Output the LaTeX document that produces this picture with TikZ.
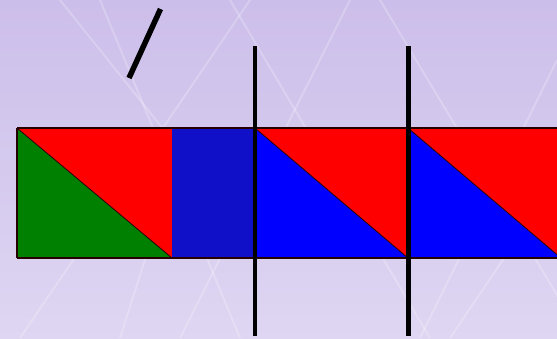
\documentclass[tikz,border=0pt]{standalone}
\begin{document}
\begin{tikzpicture}[x=1pt,y=-1pt,
  edge/.style={draw=black!85!red, line width=1.2pt},
  bar/.style={draw=black, line width=4.5pt},
  glow/.style={draw=white, opacity=0.22, line width=2pt}]
\definecolor{lavtop}{RGB}{204,190,234}
\definecolor{lavbot}{RGB}{222,214,242}
\definecolor{sqgreen}{RGB}{0,128,0}
\definecolor{sqred}{RGB}{255,0,0}
\definecolor{sqdblue}{RGB}{16,16,200}
\definecolor{sqblue}{RGB}{0,0,255}
\useasboundingbox (0,0) rectangle (557,338);
\shade[top color=lavtop, bottom color=lavbot] (0,0) rectangle (557,338);
% faint sparkle lines
\draw[glow] (60,0) -- (180,150) -- (120,338);
\draw[glow] (20,338) -- (250,0);
\draw[glow] (100,0) -- (240,338);
\draw[glow] (230,0) -- (430,338);
\draw[glow] (350,0) -- (180,338);
\draw[glow] (380,0) -- (560,300);
\draw[glow] (557,60) -- (420,338);
\draw[glow] (450,338) -- (557,180);
% first square
\coordinate (a1) at (17,128);
\coordinate (a2) at (172,128);
\coordinate (a3) at (172,258);
\coordinate (a4) at (17,258);
\fill[sqgreen] (a1) -- (a3) -- (a4) -- cycle;
\fill[sqred] (a1) -- (a2) -- (a3) -- cycle;
% dark blue rectangle
\coordinate (b2) at (255,128);
\coordinate (b3) at (255,258);
\fill[sqdblue] (a2) rectangle (b3);
% second square
\coordinate (c2) at (408,128);
\coordinate (c3) at (408,258);
\fill[sqblue] (b2) -- (c3) -- (b3) -- cycle;
\fill[sqred] (b2) -- (c2) -- (c3) -- cycle;
% third square (clipped at edge)
\coordinate (d2) at (557,128);
\coordinate (d3) at (557,258);
\coordinate (dd) at (557,254.6);
\fill[sqblue] (c2) -- (dd) -- (d3) -- (c3) -- cycle;
\fill[sqred] (c2) -- (d2) -- (dd) -- cycle;
% edges
\draw[edge] (a1) -- (d2);
\draw[edge] (a4) -- (d3);
\draw[edge] (a1) -- (a4);
\draw[edge, line width=0.8pt] (a1) -- (a3);
\draw[edge, line width=0.8pt] (b2) -- (c3);
\draw[edge, line width=0.8pt] (c2) -- (dd);
% vertical bars
\coordinate (v1t) at (255,46);
\coordinate (v1b) at (255,336);
\coordinate (v2t) at (408.5,46);
\coordinate (v2b) at (408.5,336);
\draw[bar] (v1t) -- (v1b);
\draw[bar] (v2t) -- (v2b);
% slash
\coordinate (s1) at (129,78);
\coordinate (s2) at (160.5,9);
\draw[draw=black, line width=5.5pt] (s1) -- (s2);
\end{tikzpicture}
\end{document}
